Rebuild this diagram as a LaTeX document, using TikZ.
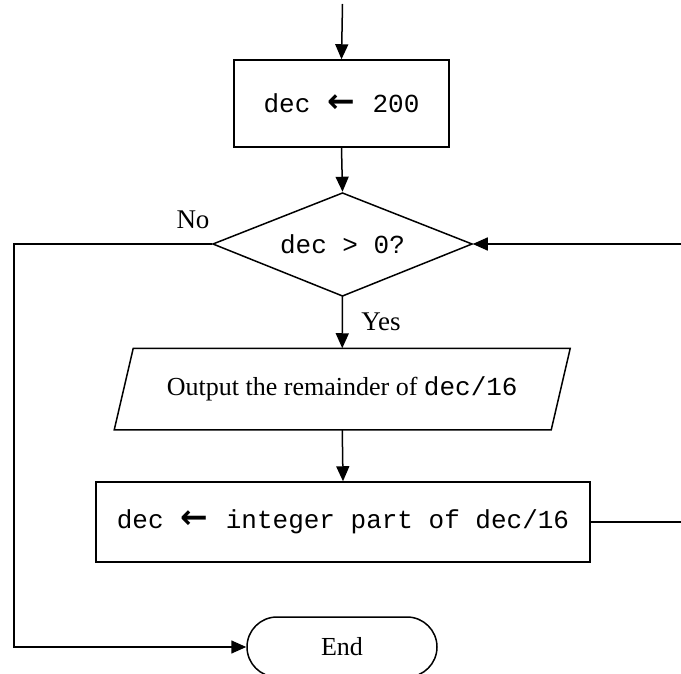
\documentclass[tikz,border=0pt]{standalone}
\usepackage{fontspec}
\setmainfont{Liberation Serif}
\setmonofont{Liberation Mono}
\newfontfamily\arrowfont{DejaVu Sans}
\newcommand{\larr}{\makebox[31pt]{\arrowfont\bfseries\fontsize{33}{33}\selectfont ←}}
\usetikzlibrary{arrows.meta}
\begin{document}
\begin{tikzpicture}[x=1pt,y=-1pt,
  line width=1.5pt,
  arr/.style={-{Triangle[length=15pt,width=13pt]}},
  procbox/.style={draw,rectangle,inner sep=0pt},
  codetxt/.style={font=\fontsize{26}{30}\selectfont\ttfamily},
  plaintxt/.style={font=\fontsize{26}{30}\selectfont},
  lbl/.style={font=\fontsize{27}{30}\selectfont,inner sep=0pt}
]
\useasboundingbox (0,0) rectangle (681,674);
% nodes
\node[procbox,codetxt,minimum width=215pt,minimum height=87pt] (b1) at (341.5,103.5) {dec \larr{} 200};
\path[draw] (342.5,193) -- (472,244) -- (342.5,296) -- (213,244) -- cycle;
\node[codetxt,inner sep=0pt,minimum width=259pt,minimum height=103pt] (dia) at (342.5,244) {dec > 0?};
\node[plaintxt,inner sep=0pt,minimum width=435.5pt,minimum height=80pt] (para) at (342.25,389) {Output the remainder of \texttt{dec/16}};
\draw ([xshift=9.5pt]para.north west) -- ([xshift=9.5pt]para.north east)
      -- ([xshift=-9.5pt]para.south east) -- ([xshift=-9.5pt]para.south west) -- cycle;
\node[procbox,codetxt,minimum width=494pt,minimum height=80pt] (b3) at (343,522) {dec \larr{} integer part of dec/16};
\node[draw,plaintxt,rectangle,rounded corners=30pt,minimum width=190pt,minimum height=60pt,inner sep=0pt] (end) at (342,647) {End};
% labels
\node[lbl] (no) at (193,220) {No};
\node[lbl] (yes) at (381,322) {Yes};
% coordinates
\coordinate (top) at (342.5,4);
\coordinate (lft) at (14,244);
\coordinate (rt1) at (682,244);
\coordinate (rt2) at (682,522);
% connectors
\draw[arr] (top) -- (b1.north);
\draw[arr] (b1.south) -- (dia.north);
\draw[arr] (dia.south) -- (para.north);
\draw[arr] (para.south) -- (b3.north);
\draw[arr] (dia.west) -- (lft) |- (end.west);
\draw[arr] (rt1) -- (dia.east);
\draw (b3.east) -- (rt2);
\end{tikzpicture}
\end{document}
